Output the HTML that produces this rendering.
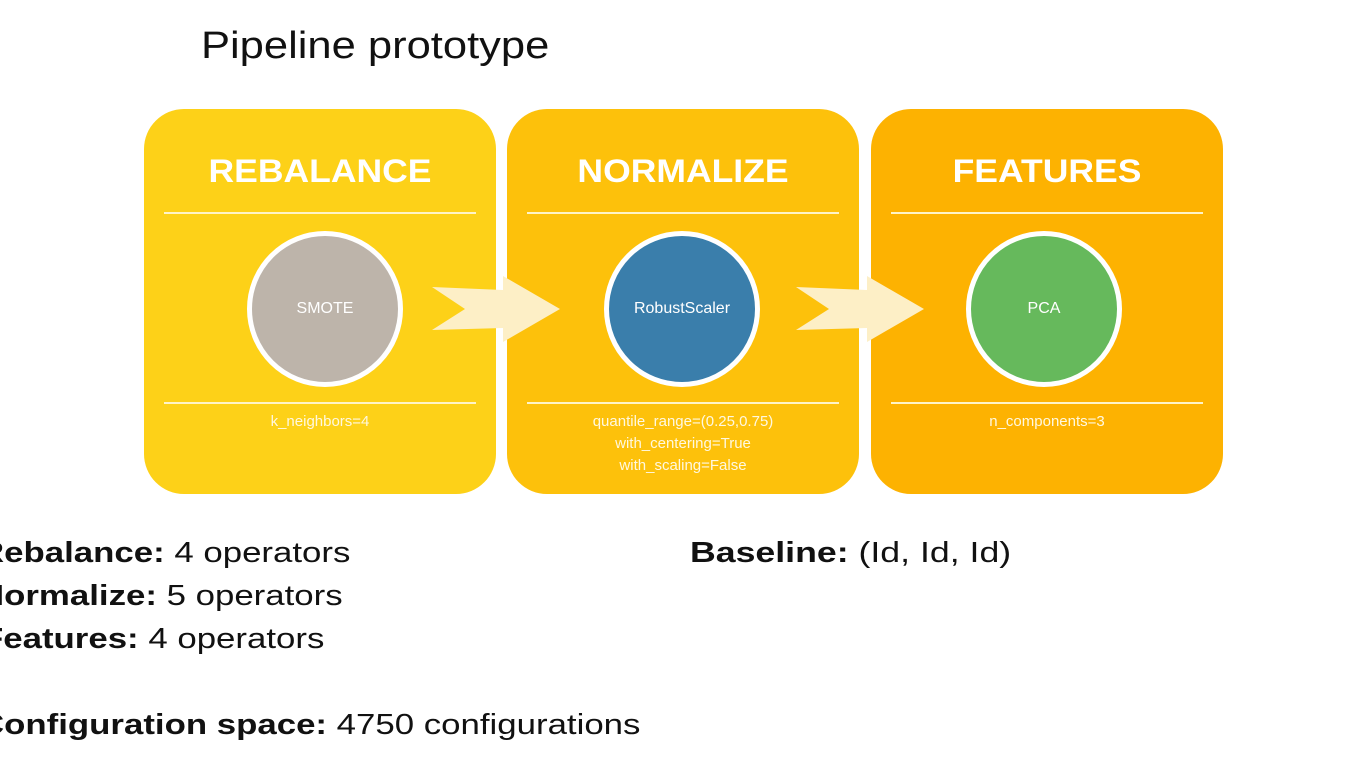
<!DOCTYPE html>
<html><head><style>
body{margin:0;width:1365px;height:768px;background:#fff;position:relative;overflow:hidden;font-family:"Liberation Sans",Arial,sans-serif;}
.t{position:absolute;white-space:nowrap;color:#111;transform-origin:0 50%;}
.box{position:absolute;top:109px;width:352px;height:385px;border-radius:40px;}
.h{position:absolute;width:352px;text-align:center;top:153px;color:#fff;font-weight:bold;font-size:32px;transform:scaleX(1.11);}
.ln{position:absolute;height:2px;background:#fff4c8;}
.c{position:absolute;width:146px;height:146px;border-radius:50%;border:5px solid #fff;top:231px;display:flex;align-items:center;justify-content:center;color:#fff;font-size:16px;}
.p{position:absolute;width:352px;text-align:center;color:#fff8e0;font-size:15px;line-height:22px;top:411px;}
</style></head><body>
<div class="t" style="left:201px;top:25px;font-size:38px;transform:scaleX(1.145);">Pipeline prototype</div>

<div class="box" style="left:144px;background:#fdd118;"></div>
<div class="box" style="left:507px;background:#fdc10b;"></div>
<div class="box" style="left:871px;background:#fdb201;"></div>

<div class="h" style="left:144px;">REBALANCE</div>
<div class="h" style="left:507px;">NORMALIZE</div>
<div class="h" style="left:871px;">FEATURES</div>

<div class="ln" style="left:164px;width:312px;top:212px;"></div>
<div class="ln" style="left:527px;width:312px;top:212px;"></div>
<div class="ln" style="left:891px;width:312px;top:212px;"></div>
<div class="ln" style="left:164px;width:312px;top:402px;"></div>
<div class="ln" style="left:527px;width:312px;top:402px;"></div>
<div class="ln" style="left:891px;width:312px;top:402px;"></div>

<svg style="position:absolute;left:0;top:0" width="1365" height="768">
<polygon points="432,287 503,290 503,276 560,309 503,342 503,328 432,330 465,309" fill="#fdefc6"/>
<polygon points="796,287 867,290 867,276 924,309 867,342 867,328 796,330 829,309" fill="#fdefc6"/>
</svg>

<div class="c" style="left:247px;background:#bdb4aa;">SMOTE</div>
<div class="c" style="left:604px;background:#3a7eab;">RobustScaler</div>
<div class="c" style="left:966px;background:#66b95c;">PCA</div>

<div class="p" style="left:144px;">k_neighbors=4</div>
<div class="p" style="left:507px;">quantile_range=(0.25,0.75)<br>with_centering=True<br>with_scaling=False</div>
<div class="p" style="left:871px;">n_components=3</div>

<div class="t" style="left:-21px;top:537px;font-size:29px;transform:scaleX(1.2);"><b>Rebalance:</b> 4 operators</div>
<div class="t" style="left:-21px;top:580px;font-size:29px;transform:scaleX(1.2);"><b>Normalize:</b> 5 operators</div>
<div class="t" style="left:-18px;top:623px;font-size:29px;transform:scaleX(1.2);"><b>Features:</b> 4 operators</div>
<div class="t" style="left:-21px;top:709px;font-size:29px;transform:scaleX(1.2);"><b>Configuration space:</b> 4750 configurations</div>
<div class="t" style="left:690px;top:537px;font-size:29px;transform:scaleX(1.23);"><b>Baseline:</b> (Id, Id, Id)</div>
</body></html>
